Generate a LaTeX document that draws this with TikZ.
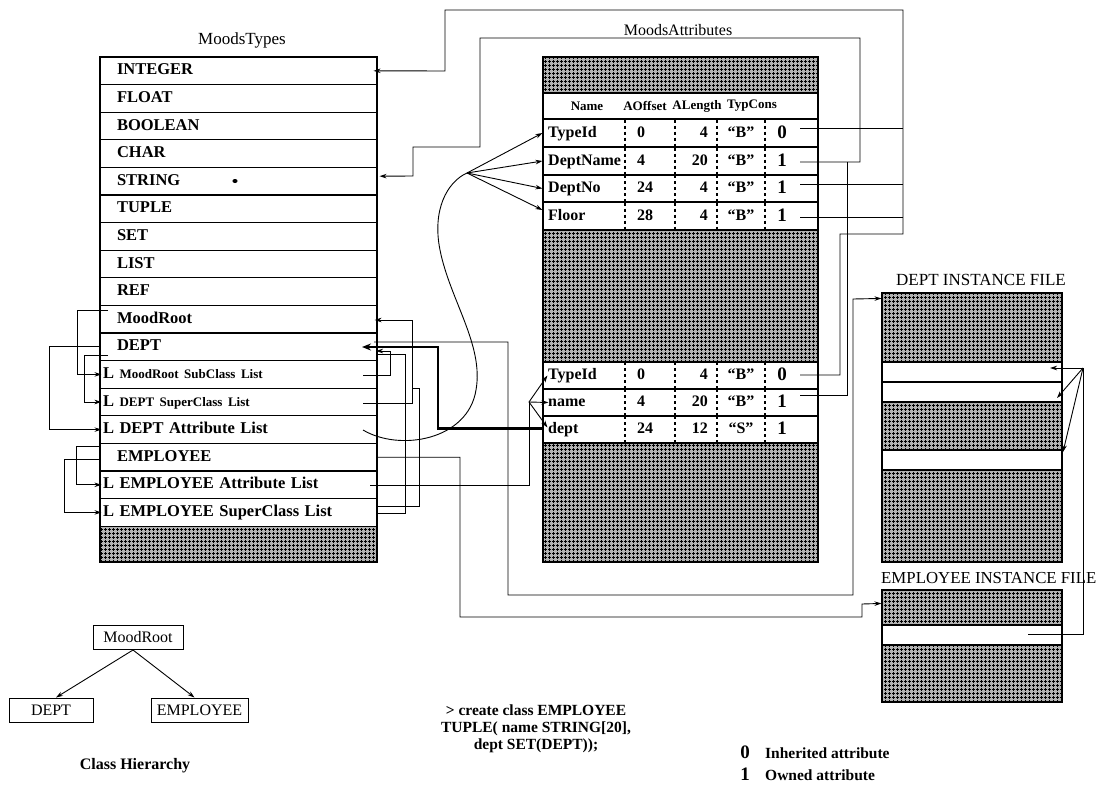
\documentclass[tikz,border=0pt]{standalone}
\usepackage{fontspec}
\setmainfont{Liberation Serif}
\usetikzlibrary{arrows.meta,patterns,calc}
\pgfdeclarepatternformonly{plusgrid}{\pgfqpoint{-0.5pt}{-0.5pt}}{\pgfqpoint{4.5pt}{4.5pt}}{\pgfqpoint{4pt}{4pt}}{%
  \pgfsetlinewidth{0.6pt}%
  \pgfpathmoveto{\pgfqpoint{0pt}{1.5pt}}\pgfpathlineto{\pgfqpoint{3pt}{1.5pt}}%
  \pgfpathmoveto{\pgfqpoint{1.5pt}{0pt}}\pgfpathlineto{\pgfqpoint{1.5pt}{3pt}}%
  \pgfusepath{stroke}}
\tikzset{
  lbl/.style={inner sep=0pt, font=\fontsize{#1}{#1}\selectfont},
  blbl/.style={inner sep=0pt, font=\fontsize{#1}{#1}\selectfont\bfseries},
  trow/.style={draw, line width=1.1pt, minimum width=277pt, minimum height=27.6pt,
    text width=243pt, inner xsep=17pt, inner ysep=0pt, align=left,
    text height=11.5pt, text depth=3.5pt, font=\fontsize{16.5}{18}\selectfont\bfseries},
  lrow/.style={trow, text width=271pt, inner xsep=3pt},
  hatch/.style={draw, line width=1.1pt, inner sep=0pt, fill=black!30, postaction={pattern=plusgrid}},
  mrow/.style={draw, line width=1.1pt, minimum width=275pt, inner sep=0pt, fill=white},
  frow/.style={draw, line width=1.1pt, minimum width=180pt, inner sep=0pt, fill=white},
  conn/.style={line width=0.9pt},
  arr/.style={-{Stealth[length=7pt,width=4.5pt]}},
  thickc/.style={line width=2.4pt},
  sepline/.style={line width=1.2pt, dash pattern=on 3pt off 3pt},
  mname/.style={anchor=west, inner sep=0pt, text height=11pt, text depth=3pt, font=\fontsize{16}{16}\selectfont\bfseries},
  mval/.style={inner sep=0pt, text height=11pt, text depth=3pt, font=\fontsize{16}{16}\selectfont\bfseries},
  mflag/.style={inner sep=0pt, text height=12pt, text depth=2pt, font=\fontsize{19}{19}\selectfont\bfseries},
  mhead/.style={inner sep=0pt, font=\fontsize{13}{13}\selectfont\bfseries},
  hbox/.style={draw, line width=1pt, inner sep=0pt, minimum height=24pt, font=\fontsize{16}{16}\selectfont},
}
\newcommand\attrrow[7]{%
  \node[mname] (#1n) at (548,#2) {#3};
  \node[mval,anchor=west] (#1o) at (637,#2) {#4};
  \node[mval,anchor=east] (#1l) at (708,#2) {#5};
  \node[mval] (#1t) at (741,#2) {#6};
  \node[mflag] (#1f) at (782,#2) {#7};
  \draw[sepline] (625,#2-13.5) -- (625,#2+13.5);
  \draw[sepline] (675,#2-13.5) -- (675,#2+13.5);
  \draw[sepline] (717,#2-13.5) -- (717,#2+13.5);
  \draw[sepline] (765,#2-13.5) -- (765,#2+13.5);
}
\begin{document}
\begin{tikzpicture}[x=1pt,y=-1pt]
\useasboundingbox (0,0) rectangle (1100,787);
\fill[white] (0,0) rectangle (1100,787);

% titles
\node[lbl=17] (ttl1) at (242,40) {MoodsTypes};
\node[lbl=16] (ttl2) at (678,30) {MoodsAttributes};

% ---------------- MoodsTypes table
\node[trow] (t0) at (238.5,70.8) {INTEGER};
\node[trow] (t1) at (238.5,98.4) {FLOAT};
\node[trow] (t2) at (238.5,126.0) {BOOLEAN};
\node[trow] (t3) at (238.5,153.6) {CHAR};
\node[trow] (t4) at (238.5,181.2) {STRING};
\node[trow] (t5) at (238.5,208.8) {TUPLE};
\node[trow] (t6) at (238.5,236.4) {SET};
\node[trow] (t7) at (238.5,264.0) {LIST};
\node[trow] (t8) at (238.5,291.6) {REF};
\node[trow] (t9) at (238.5,319.2) {MoodRoot};
\node[trow] (t10) at (238.5,346.8) {DEPT};
\node[lrow] (t11) at (238.5,374.4) {L {\fontsize{13}{13}\selectfont MoodRoot SubClass List}};
\node[lrow] (t12) at (238.5,402.0) {L {\fontsize{13}{13}\selectfont DEPT SuperClass List}};
\node[lrow] (t13) at (238.5,429.6) {L DEPT Attribute List};
\node[trow] (t14) at (238.5,457.2) {EMPLOYEE};
\node[lrow] (t15) at (238.5,484.8) {L EMPLOYEE Attribute List};
\node[lrow] (t16) at (238.5,512.4) {L EMPLOYEE SuperClass List};
\node[hatch, minimum width=277pt, minimum height=35.8pt] (th) at (238.5,544.1) {};
\fill (235,181) ellipse (2.6pt and 2pt);

% ---------------- MoodsAttributes table
\node[hatch, minimum width=275pt, minimum height=36pt] (mh0) at (680.5,75) {};
\node[mrow, minimum height=26pt] (mhd) at (680.5,106) {};
\node[mrow, minimum height=28pt] (ma1) at (680.5,133) {};
\node[mrow, minimum height=28pt] (ma2) at (680.5,161) {};
\node[mrow, minimum height=27pt] (ma3) at (680.5,188.5) {};
\node[mrow, minimum height=28pt] (ma4) at (680.5,216) {};
\node[hatch, minimum width=275pt, minimum height=132pt] (mh1) at (680.5,296) {};
\node[mrow, minimum height=27pt] (mb1) at (680.5,375.5) {};
\node[mrow, minimum height=27pt] (mb2) at (680.5,402.5) {};
\node[mrow, minimum height=27pt] (mb3) at (680.5,429.5) {};
\node[hatch, minimum width=275pt, minimum height=119pt] (mh2) at (680.5,502.5) {};

\node[mhead] (hn) at (587,106) {Name};
\node[mhead] (ho) at (645,106) {AOffset};
\node[mhead] (hl) at (697,106) {ALength};
\node[mhead] (ht) at (752,106) {TypCons};

\attrrow{ua}{133}{TypeId}{0}{4}{``B''}{0}
\attrrow{ub}{161}{DeptName}{4}{20}{``B''}{1}
\attrrow{uc}{188.5}{DeptNo}{24}{4}{``B''}{1}
\attrrow{ud}{216}{Floor}{28}{4}{``B''}{1}
\attrrow{la}{375.5}{TypeId}{0}{4}{``B''}{0}
\attrrow{lb}{402.5}{name}{4}{20}{``B''}{1}
\attrrow{lc}{429.5}{dept}{24}{12}{``S''}{1}

% ---------------- instance files
\node[lbl=17] (dlab) at (981,280) {DEPT INSTANCE FILE};
\node[hatch, minimum width=180pt, minimum height=69pt] (d1) at (972,327.5) {};
\node[frow, minimum height=20pt] (d2) at (972,372) {};
\node[frow, minimum height=20pt] (d3) at (972,392) {};
\node[hatch, minimum width=180pt, minimum height=48pt] (d4) at (972,426) {};
\node[frow, minimum height=20pt] (d5) at (972,460) {};
\node[hatch, minimum width=180pt, minimum height=92pt] (d6) at (972,516) {};

\node[lbl=16.8, anchor=west] (elab) at (881,578) {EMPLOYEE INSTANCE FILE};
\node[hatch, minimum width=180pt, minimum height=35pt] (e1) at (972,607.5) {};
\node[frow, minimum height=20pt] (e2) at (972,635) {};
\node[hatch, minimum width=180pt, minimum height=57pt] (e3) at (972,673.5) {};

% ---------------- connectors: type buses on the right
\coordinate (sTa) at (800,128);
\coordinate (sNo) at (800,184);
\coordinate (sFl) at (800,217);
\coordinate (sTb) at (800,375);
\draw[conn,arr] (sTb) -| (840,234) -| (903,10) -| (445,71) -- ($(t0.east)+(-4,0)$);
\draw[conn] (sTa) -- (903,128);
\draw[conn] (sNo) -- (903,184);
\draw[conn] (sFl) -- (903,217);

\coordinate (sDn) at (800,162);
\coordinate (sNm) at (800,395);
\draw[conn,arr] (sDn) -| (860,38) -| (480,147) -| (413,176) -- ($(t4.east)+(2,-5)$);
\draw[conn] (sNm) -| (847,162);

% DEPT attribute list -> attributes
\coordinate (fanA) at (467,173);
\coordinate (sDA) at (363,430);
\draw[conn] (sDA) .. controls (400,452) and (468,440) .. (476,390)
  .. controls (484,345) and (450,300) .. (440,250)
  .. controls (432,210) and (447,182) .. (fanA);
\draw[conn,arr] (fanA) -- (ma1.west);
\draw[conn,arr] (fanA) -- (ma2.west);
\draw[conn,arr] (fanA) -- (ma3.west);
\draw[conn,arr] (fanA) -- ($(ma4.west)+(0,-6)$);

% EMPLOYEE attribute list -> attributes
\coordinate (fanB) at (529,402);
\coordinate (sEA) at (370,485);
\draw[conn] (sEA) -| (fanB);
\draw[conn,arr] (fanB) -- ($(mb1.west)+(5,0)$);
\draw[conn,arr] (fanB) -- ($(mb2.west)+(6,0)$);
\draw[conn,arr] (fanB) -- ($(mb3.west)+(5,-2)$);

% dept SET(DEPT) -> DEPT
\draw[thickc,-{Stealth[length=9pt,width=7pt]}] ($(mb3.west)+(0,-1)$) -| (438,347) -- (362,347);

% class lists on the right of MoodsTypes
\draw[conn,arr] (363,375) -| (390,351) -- (376,351);
\draw[conn,arr] (363,403) -| (412,320) -- ($(t9.east)+(-3,0.8)$);
\draw[conn] ($(t16.east)+(0,-6)$) -| (419,388) -- (412,388);
\draw[conn] ($(t16.east)+(0,0.6)$) -| (405,354) -- (377,354);

% classes -> instance files
\draw[conn,arr] (374,342) -| (508,595) -| (853,299) -- ($(d1.north west)+(0,6)$);
\draw[conn,arr] (t14.east) -| (460,617) -| (862,604) -- ($(e1.north west)+(0,14)$);

% EMPLOYEE instance -> DEPT instances
\coordinate (fanC) at (1083,368);
\draw[conn] ($(e2.center)+(56,-1)$) -| (fanC);
\draw[conn,arr] (fanC) -- (1050,368);
\draw[conn,arr] (fanC) -- (1057,398);
\draw[conn,arr] (fanC) -- (1063,452);

% left side loops
\draw[conn,arr] (108,310) -| ($(t11.west)+(-22,0)$) -- ($(t11.west)+(2,0)$);
\draw[conn,arr] (t10.west) -| ($(t13.west)+(-50,0)$) -- ($(t13.west)+(2,0)$);
\draw[conn,arr] (108,355) -| ($(t12.west)+(-15,0)$) -- ($(t12.west)+(2,0)$);
\draw[conn,arr] (100,446) -| ($(t15.west)+(-23,0)$) -- ($(t15.west)+(2,0)$);
\draw[conn,arr] (100,459) -| ($(t16.west)+(-35,0)$) -- ($(t16.west)+(2,0)$);

% ---------------- class hierarchy
\node[hbox, minimum width=90pt] (hm) at (138,637.5) {MoodRoot};
\node[hbox, minimum width=84pt] (hd) at (51,710) {DEPT};
\node[hbox, minimum width=97pt] (he) at (199.5,710) {EMPLOYEE};
\draw[conn,arr] ($(hm.south)+(-5,0)$) -- ($(hd.north)+(5,0)$);
\draw[conn,arr] ($(hm.south)+(-5,0)$) -- ($(he.north)+(-5,0)$);
\node[blbl=16] (hcap) at (135,766) {Class Hierarchy};

% ---------------- command and legend
\node[inner sep=0pt, align=center, font=\fontsize{15.5}{17}\selectfont\bfseries] (cmd) at (536,729)
  {> create class EMPLOYEE\\ TUPLE( name STRING[20],\\ dept SET(DEPT));};
\node[mflag] (lg0) at (745,753) {0};
\node[blbl=15.5, anchor=west] (lg0t) at (765,753) {Inherited attribute};
\node[mflag] (lg1) at (745,775) {1};
\node[blbl=15.5, anchor=west] (lg1t) at (765,775) {Owned attribute};
\end{tikzpicture}
\end{document}
